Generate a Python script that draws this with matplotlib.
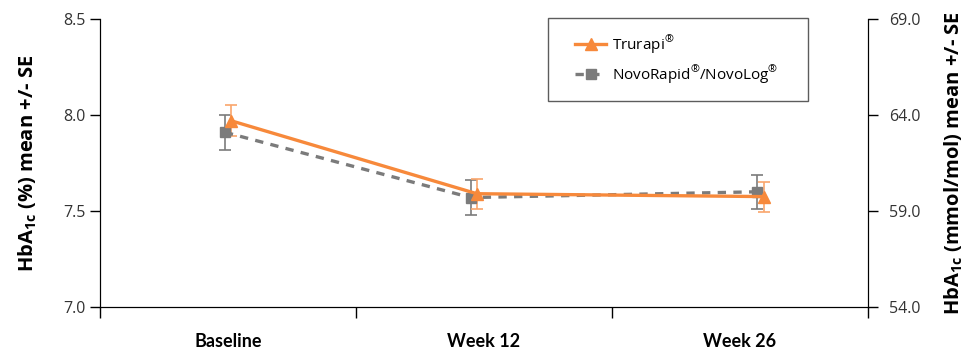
import matplotlib.pyplot as plt
from matplotlib.lines import Line2D
from matplotlib.legend_handler import HandlerLine2D
from matplotlib.ticker import FixedLocator, FormatStrFormatter

# data (HbA1c %, mean and SE)
weeks = [0, 12, 26]
visit_labels = ["Baseline", "Week 12", "Week 26"]
trurapi_mean = [7.97, 7.59, 7.575]
trurapi_se = [0.08, 0.078, 0.078]
novo_mean = [7.91, 7.57, 7.60]
novo_se = [0.09, 0.09, 0.09]

orange = "#F7893B"
orange_err = "#F9A66C"
grey = "#7B7B7B"

plt.rcParams['font.family'] = ['Open Sans', 'DejaVu Sans']
plt.rcParams['mathtext.fontset'] = 'custom'
plt.rcParams['mathtext.rm'] = 'Open Sans'

fig = plt.figure(figsize=(9.68, 3.51), dpi=100)
ax = fig.add_axes([0.1033, 0.1254, 0.7934, 0.8205])

dodge = 0.15
xs_novo = [w - dodge for w in weeks]
xs_tru = [w + dodge for w in weeks]

# error bars first so the lines sit on top
ax.errorbar(xs_novo, novo_mean, yerr=novo_se, fmt='none', ecolor=grey,
            elinewidth=1.2, capsize=4, capthick=1.2, zorder=2)
ax.errorbar(xs_tru, trurapi_mean, yerr=trurapi_se, fmt='none', ecolor=orange_err,
            elinewidth=1.2, capsize=4, capthick=1.2, zorder=2)

ax.plot(xs_tru, trurapi_mean, color=orange, lw=2.4, marker='^', ms=8,
        label="Trurapi$^{\\mathregular{®}}$", zorder=4)
ax.plot(xs_novo, novo_mean, color=grey, lw=2.4, ls=(0, (2.5, 2.2)), marker='s', ms=7.5,
        label="NovoRapid$^{\\mathregular{®}}$/NovoLog$^{\\mathregular{®}}$", zorder=3)

# axes
ax.set_xlim(-6.25, 31.25)
ax.set_ylim(7.0, 8.5)
ax.xaxis.set_major_locator(FixedLocator([-6.25, 6.25, 18.75, 31.25]))
ax.xaxis.set_minor_locator(FixedLocator([0, 12.5, 25]))
ax.set_xticklabels([], minor=False)
ax.set_xticklabels(visit_labels, minor=True, fontsize=13, fontweight='bold',
                   family=['Lato', 'DejaVu Sans'])
ax.tick_params(axis='x', which='major', length=8, width=1)
ax.tick_params(axis='x', which='minor', length=0, pad=19)
ax.set_yticks([7.0, 7.5, 8.0, 8.5])
ax.yaxis.set_major_formatter(FormatStrFormatter('%.1f'))
ax.tick_params(axis='y', length=7, width=1, labelsize=11.5, labelcolor='#333333')
ax.spines['top'].set_visible(False)
ax.set_ylabel("HbA$_{\\mathregular{1c}}$ (%) mean +/- SE", fontsize=14.5,
              fontweight='bold', labelpad=17)

ax2 = ax.twinx()
ax2.set_ylim(54.0, 69.0)
ax2.set_yticks([54.0, 59.0, 64.0, 69.0])
ax2.yaxis.set_major_formatter(FormatStrFormatter('%.1f'))
ax2.tick_params(axis='y', length=7, width=1, labelsize=11.5, labelcolor='#333333', pad=8)
ax2.spines['top'].set_visible(False)
ax2.set_ylabel("HbA$_{\\mathregular{1c}}$ (mmol/mol) mean +/- SE", fontsize=14.5,
               fontweight='bold', labelpad=16)

leg = ax.legend(loc='upper left', bbox_to_anchor=(0.583, 0.729, 0.339, 0.274),
                mode='expand', borderaxespad=0, fontsize=11, frameon=True,
                fancybox=False, edgecolor='#333333', borderpad=1.0,
                labelspacing=0.5, handlelength=2.8, handletextpad=0.4,
                handler_map={Line2D: HandlerLine2D(xpad=0.8)})
leg.get_frame().set_linewidth(1.0)

fig.savefig("out.png", dpi=100)
